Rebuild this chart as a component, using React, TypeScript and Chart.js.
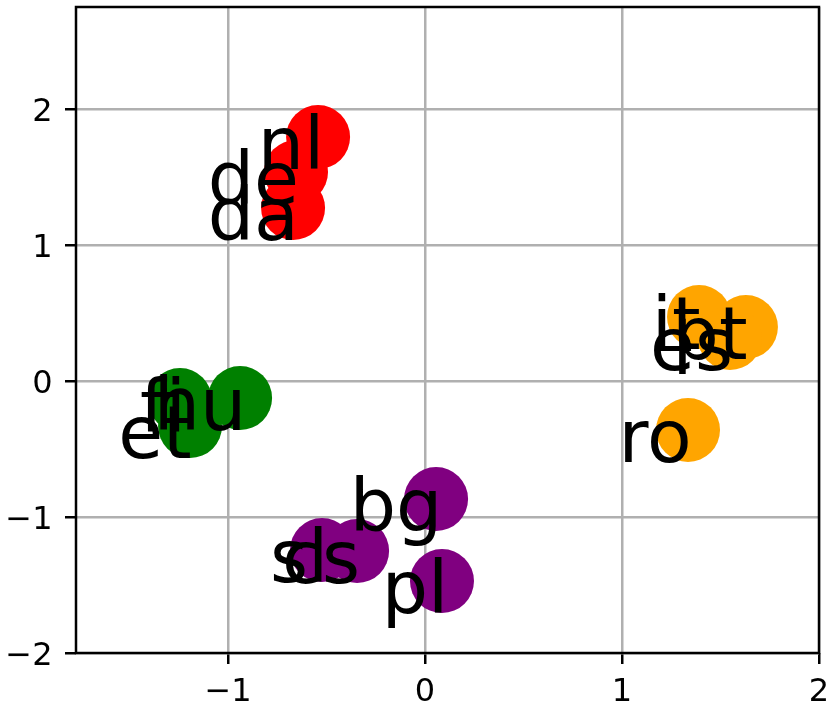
import React, { useEffect, useRef } from "react";
import { Chart, registerables } from "chart.js";

Chart.register(...registerables);

const germanicLabels = ["nl", "de", "da"];
const germanicX = [-0.543, -0.655, -0.67];
const germanicY = [1.794, 1.537, 1.272];

const finnicLabels = ["fi", "hu", "et"];
const finnicX = [-1.244, -0.939, -1.193];
const finnicY = [-0.14, -0.125, -0.331];

const romanceLabels = ["it", "pt", "es", "ro"];
const romanceX = [1.391, 1.629, 1.548, 1.335];
const romanceY = [0.471, 0.397, 0.316, -0.36];

const slavicLabels = ["bg", "pl", "sl", "cs"];
const slavicX = [0.056, 0.086, -0.523, -0.345];
const slavicY = [-0.868, -1.471, -1.243, -1.25];

const xTicks = [-1, 0, 1, 2];
const yTicks = [-2, -1, 0, 1, 2];
const xMin = -1.772;
const xMax = 2;
const yMin = -2;
const yMax = 2.75;

const groups = [
  { labels: germanicLabels, xs: germanicX, ys: germanicY, color: "#ff0000" },
  { labels: finnicLabels, xs: finnicX, ys: finnicY, color: "#008000" },
  { labels: romanceLabels, xs: romanceX, ys: romanceY, color: "#ffa500" },
  { labels: slavicLabels, xs: slavicX, ys: slavicY, color: "#800080" },
];

const fmt = (v: number) => (v < 0 ? "\u2212" + Math.abs(v) : String(v));

export default function App() {
  const ref = useRef<HTMLCanvasElement | null>(null);

  useEffect(() => {
    document.body.style.margin = "0";
    const canvas = ref.current;
    if (!canvas) return;
    Chart.defaults.font.family = "'DejaVu Sans'";

    const labelPlugin = {
      id: "labelsAndSpines",
      afterDraw(chart: any) {
        const ctx = chart.ctx;
        const area = chart.chartArea;
        const xs = chart.scales.x;
        const ys = chart.scales.y;
        ctx.save();
        // spines
        ctx.strokeStyle = "#000000";
        ctx.lineWidth = 2.5;
        ctx.strokeRect(area.left, area.top, area.right - area.left, area.bottom - area.top);
        // tick labels
        ctx.fillStyle = "#000000";
        ctx.font = "32px 'DejaVu Sans'";
        ctx.textBaseline = "alphabetic";
        ctx.textAlign = "center";
        xTicks.forEach((v) => {
          ctx.fillText(fmt(v), xs.getPixelForValue(v), 701);
        });
        ctx.textAlign = "right";
        yTicks.forEach((v) => {
          ctx.fillText(fmt(v), 52.5, ys.getPixelForValue(v) + 11.7);
        });
        // point labels: ink right edge aligned to the point (matplotlib ha='right')
        ctx.font = "73px 'DejaVu Sans'";
        ctx.textAlign = "left";
        chart.data.datasets.forEach((ds: any, di: number) => {
          const meta = chart.getDatasetMeta(di);
          meta.data.forEach((pt: any, i: number) => {
            const label = ds.pointLabels[i];
            const m = ctx.measureText(label);
            ctx.fillText(label, pt.x - m.actualBoundingBoxRight, pt.y + 32);
          });
        });
        ctx.restore();
      },
    };

    const gridOpts = {
      color: "#b0b0b0",
      lineWidth: 2.5,
      drawTicks: true,
      tickLength: 11,
      tickColor: "#000000",
      tickWidth: 2.5,
    };

    const chart = new Chart(canvas, {
      type: "scatter",
      data: {
        datasets: groups.map((g) => ({
          data: g.xs.map((x, i) => ({ x, y: g.ys[i] })),
          pointLabels: g.labels,
          backgroundColor: g.color,
          borderWidth: 0,
          pointRadius: 32,
          pointHoverRadius: 32,
          clip: false,
        })) as any,
      },
      options: {
        animation: false,
        responsive: true,
        maintainAspectRatio: false,
        events: [],
        layout: { autoPadding: false, padding: { top: 7, right: 11, left: 0, bottom: 0 } },
        plugins: { legend: { display: false }, tooltip: { enabled: false } },
        scales: {
          x: {
            type: "linear",
            min: xMin,
            max: xMax,
            z: 1,
            afterBuildTicks: (scale: any) => {
              scale.ticks = xTicks.map((v) => ({ value: v }));
            },
            afterFit: (scale: any) => {
              scale.height = 54;
              scale.paddingLeft = 0;
              scale.paddingRight = 0;
            },
            border: { display: false },
            grid: gridOpts,
            ticks: { display: false },
          },
          y: {
            type: "linear",
            min: yMin,
            max: yMax,
            z: 1,
            afterBuildTicks: (scale: any) => {
              scale.ticks = yTicks.map((v) => ({ value: v }));
            },
            afterFit: (scale: any) => {
              scale.width = 76;
              scale.paddingTop = 0;
              scale.paddingBottom = 0;
            },
            border: { display: false },
            grid: gridOpts,
            ticks: { display: false },
          },
        },
      } as any,
      plugins: [labelPlugin],
    });

    return () => chart.destroy();
  }, []);

  return (
    <div style={{ position: "absolute", left: 0, top: 0, width: 830, height: 707 }}>
      <canvas ref={ref} />
    </div>
  );
}
